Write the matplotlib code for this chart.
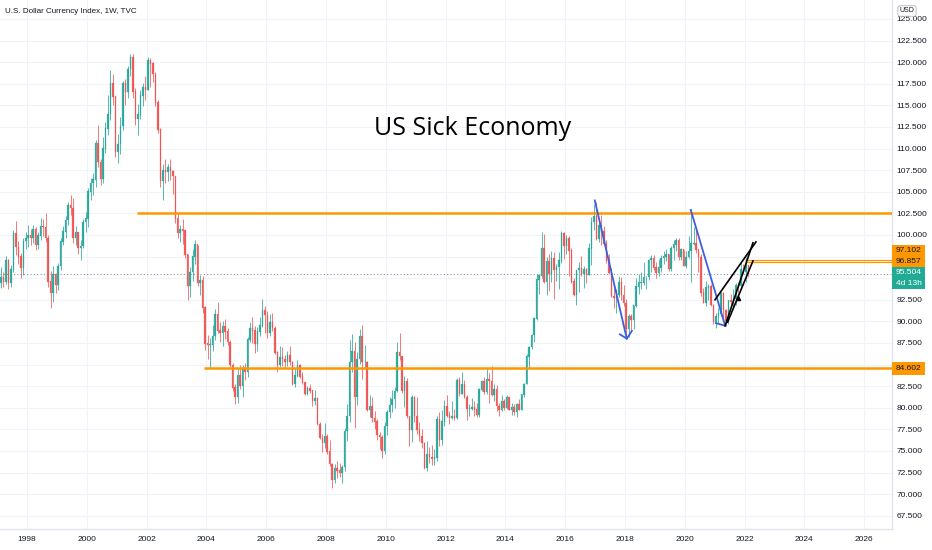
import numpy as np
import matplotlib
matplotlib.use("Agg")
import matplotlib.pyplot as plt
from matplotlib.patches import Rectangle

W, H = 932, 550

# monthly candles Feb 1997 .. Feb 2022
first_open = 94.5
closes = [
    95.1, 94.6, 97.0, 94.5, 96.0, 100.2, 98.6, 97.5, 96.2, 99.3, 99.6,
    100.0, 99.7, 100.6, 98.9, 99.9, 101.0, 100.9, 99.6, 94.6, 93.3, 95.4, 94.2,
    96.4, 99.2, 100.4, 101.7, 103.4, 103.1, 99.6, 100.3, 98.5, 98.7, 101.5, 101.9,
    105.0, 106.0, 106.4, 110.6, 108.4, 106.5, 110.0, 112.3, 114.0, 117.5, 116.0, 109.6,
    110.5, 112.6, 117.5, 116.6, 119.2, 120.6, 116.6, 113.4, 113.9, 116.1, 117.1, 116.8,
    120.2, 119.8, 118.6, 115.3, 112.2, 106.3, 107.5, 107.3, 107.8, 107.4, 106.8, 101.9,
    100.2, 100.6, 100.5, 97.7, 94.1, 95.7, 97.5, 98.9, 94.5, 94.7, 91.6, 87.4,
    87.3, 87.3, 88.3, 90.8, 88.9, 88.7, 89.4, 88.8, 87.6, 84.9, 82.3, 81.2,
    83.7, 82.5, 84.4, 84.1, 87.9, 89.2, 88.9, 87.4, 88.8, 89.5, 91.3, 90.7,
    88.7, 89.9, 89.2, 86.4, 84.9, 85.8, 85.6, 85.3, 86.1, 85.3, 82.7, 83.7,
    84.9, 83.6, 82.9, 81.6, 82.2, 82.0, 80.8, 81.1, 78.1, 76.5, 75.9, 76.7,
    74.9, 73.5, 71.7, 73.0, 72.7, 72.4, 73.1, 77.3, 79.0, 85.3, 86.5, 81.3,
    85.6, 88.3, 85.3, 85.3, 79.8, 80.2, 78.8, 78.4, 76.8, 76.6, 75.0, 77.9,
    79.5, 80.3, 81.0, 81.9, 86.4, 86.0, 81.9, 83.1, 79.0, 77.4, 81.2, 79.0,
    77.4, 76.7, 75.9, 73.0, 74.6, 74.3, 74.1, 74.2, 78.6, 76.3, 78.4, 80.2,
    79.1, 78.8, 79.0, 78.8, 83.2, 81.6, 82.7, 81.2, 79.9, 79.9, 80.1, 79.8,
    79.2, 82.1, 83.0, 81.8, 83.3, 83.1, 81.5, 82.1, 80.2, 79.7, 80.7, 80.0,
    81.2, 79.8, 80.1, 79.5, 80.4, 79.8, 81.5, 82.7, 85.9, 87.0, 88.4, 90.3,
    94.8, 95.3, 98.4, 94.6, 96.9, 95.5, 97.3, 96.0, 96.3, 97.0, 100.2, 98.7,
    99.6, 98.2, 94.6, 93.1, 95.9, 96.1, 95.5, 96.0, 95.4, 98.4, 101.5, 102.2,
    99.5, 101.1, 100.4, 99.0, 97.0, 95.6, 92.9, 92.7, 93.1, 94.5, 93.0, 92.1,
    89.1, 90.6, 90.2, 91.8, 94.0, 94.5, 94.5, 95.1, 95.1, 97.1, 97.3, 96.2,
    95.6, 96.2, 97.3, 97.5, 97.8, 96.1, 98.5, 98.9, 99.4, 97.4, 98.3, 96.4,
    97.4, 98.1, 99.0, 99.0, 98.3, 97.4, 93.3, 92.1, 93.9, 94.0, 91.9, 89.9,
    90.6, 90.9, 93.2, 91.3, 90.0, 92.4, 92.2, 92.6, 94.2, 94.1, 96.0, 95.7,
    96.5, 95.5,
]
highs = [
    96.3, 95.7, 97.6, 97.2, 96.5, 100.6, 101.6, 99.3, 97.9, 99.6, 100.4,
    101.2, 100.7, 101.2, 100.9, 100.3, 102.0, 101.8, 102.6, 100.0, 95.8, 96.4, 95.6,
    96.8, 99.6, 101.0, 102.2, 103.8, 104.6, 104.3, 101.0, 100.4, 99.4, 101.9, 102.7,
    105.4, 106.6, 107.2, 111.0, 112.7, 108.8, 111.3, 113.1, 116.2, 119.1, 118.6, 116.0,
    111.7, 113.6, 117.8, 118.0, 119.6, 121.0, 121.0, 117.0, 115.2, 116.8, 117.6, 118.4,
    120.6, 120.5, 120.0, 118.9, 115.6, 112.4, 108.2, 108.8, 108.2, 108.8, 107.5, 106.8,
    102.6, 101.2, 101.9, 100.6, 97.8, 96.3, 98.4, 99.4, 98.9, 95.4, 95.2, 91.8,
    88.4, 88.1, 89.6, 91.4, 92.2, 89.9, 90.0, 90.3, 89.2, 87.8, 85.2, 82.8,
    84.6, 85.0, 84.9, 85.2, 88.2, 89.9, 90.5, 89.5, 89.3, 90.5, 92.6, 91.8,
    91.2, 90.8, 91.0, 89.5, 86.6, 87.2, 87.0, 86.1, 86.6, 87.2, 85.4, 84.6,
    85.5, 85.1, 84.2, 83.0, 82.5, 82.7, 82.0, 82.1, 81.2, 78.3, 77.0, 78.2,
    77.0, 76.3, 73.6, 73.5, 73.8, 73.6, 73.4, 77.7, 80.4, 87.9, 88.5, 87.6,
    86.5, 89.1, 89.6, 87.3, 85.4, 81.5, 81.3, 79.6, 78.7, 77.2, 76.8, 78.4,
    79.8, 81.3, 82.1, 82.4, 87.6, 88.7, 86.0, 83.7, 83.5, 78.9, 81.5, 81.4,
    81.2, 78.4, 77.6, 76.0, 76.2, 75.5, 75.7, 75.2, 79.0, 79.5, 79.8, 80.9,
    81.5, 79.6, 80.8, 79.9, 83.5, 83.6, 84.1, 83.2, 81.5, 80.4, 81.1, 80.8,
    80.6, 82.3, 83.2, 83.6, 84.5, 84.0, 84.8, 82.7, 82.6, 80.6, 81.5, 81.0,
    81.5, 81.3, 80.5, 80.4, 80.6, 81.0, 81.6, 82.9, 86.2, 87.1, 88.5, 90.5,
    95.5, 95.5, 100.4, 100.1, 97.5, 97.8, 98.2, 98.0, 96.7, 98.0, 100.5, 100.3,
    100.0, 99.9, 98.5, 95.0, 96.0, 96.9, 97.6, 96.4, 96.2, 99.1, 102.1, 103.6,
    103.8, 101.8, 102.3, 101.0, 99.4, 97.8, 96.2, 93.9, 93.8, 95.2, 95.1, 94.2,
    92.6, 90.9, 90.9, 91.9, 95.0, 95.5, 95.7, 96.9, 95.3, 97.2, 97.7, 97.7,
    96.9, 97.2, 97.7, 98.1, 98.4, 97.8, 98.7, 99.4, 99.7, 99.6, 98.5, 98.3,
    98.2, 99.9, 103.0, 100.9, 100.6, 98.3, 97.8, 93.9, 94.7, 94.3, 94.3, 92.0,
    91.0, 91.6, 93.4, 93.4, 91.4, 92.4, 93.2, 93.7, 94.5, 94.6, 96.9, 96.6,
    97.4, 96.4,
]
lows = [
    93.9, 94.0, 94.3, 93.7, 94.0, 95.7, 97.7, 96.6, 95.0, 95.4, 98.4,
    98.6, 98.8, 99.1, 98.3, 98.4, 99.4, 99.9, 99.2, 94.0, 91.5, 92.3, 93.3,
    93.6, 96.0, 98.8, 99.7, 101.2, 102.3, 99.1, 98.8, 97.8, 97.1, 98.5, 100.4,
    100.9, 104.0, 104.6, 105.6, 107.9, 105.8, 106.0, 109.5, 111.6, 113.3, 115.0, 109.0,
    108.3, 109.4, 112.2, 115.1, 115.8, 118.4, 115.9, 112.7, 111.6, 113.4, 114.9, 115.6,
    116.8, 117.1, 117.7, 114.9, 111.8, 105.6, 104.1, 106.0, 106.2, 106.4, 104.8, 101.4,
    99.6, 99.2, 99.0, 97.3, 92.5, 92.8, 94.7, 96.7, 94.1, 93.1, 91.0, 86.7,
    85.6, 84.6, 86.6, 87.9, 88.6, 87.6, 87.2, 88.0, 87.3, 84.7, 82.0, 80.4,
    80.6, 82.2, 81.3, 83.2, 83.6, 87.6, 87.5, 86.3, 86.6, 88.3, 89.4, 88.7,
    88.1, 88.3, 88.9, 86.2, 84.2, 84.7, 84.8, 84.6, 84.8, 85.0, 82.6, 82.4,
    83.6, 83.4, 82.7, 81.5, 81.5, 81.7, 80.2, 80.3, 78.0, 76.4, 74.9, 75.4,
    74.6, 73.3, 70.7, 71.3, 71.9, 72.0, 71.3, 72.7, 76.2, 78.3, 84.1, 77.7,
    80.3, 85.1, 83.3, 84.5, 79.6, 78.9, 78.3, 77.5, 76.3, 75.2, 74.2, 74.7,
    76.9, 78.8, 79.5, 80.0, 81.8, 85.5, 81.7, 80.1, 78.8, 75.6, 76.0, 78.4,
    77.0, 76.2, 75.3, 72.9, 72.7, 73.6, 73.4, 73.4, 73.8, 75.6, 75.7, 77.9,
    78.9, 78.1, 78.7, 78.6, 78.7, 81.4, 81.6, 81.1, 78.6, 79.0, 79.7, 79.0,
    78.9, 78.9, 81.9, 81.6, 81.6, 80.5, 81.4, 80.8, 79.6, 79.1, 79.6, 79.7,
    79.9, 79.8, 79.2, 79.2, 78.9, 79.7, 79.8, 81.3, 82.7, 84.5, 86.8, 87.6,
    90.2, 93.2, 95.0, 94.5, 93.1, 93.5, 94.6, 92.6, 94.7, 93.8, 96.8, 97.2,
    97.8, 95.2, 94.5, 92.9, 91.9, 93.4, 95.2, 93.9, 94.5, 95.4, 96.5, 100.6,
    99.4, 99.2, 98.9, 98.9, 96.8, 95.5, 92.8, 91.6, 91.0, 92.8, 92.5, 91.8,
    88.4, 88.2, 89.0, 89.1, 91.7, 93.2, 93.7, 94.2, 93.8, 94.8, 95.7, 96.0,
    95.0, 95.2, 95.7, 96.6, 97.0, 95.8, 95.8, 97.1, 98.1, 97.1, 97.1, 96.4,
    96.2, 97.3, 94.6, 98.8, 97.9, 95.7, 92.9, 92.1, 91.8, 92.5, 91.8, 89.7,
    89.2, 89.7, 90.6, 90.4, 89.5, 89.7, 91.8, 91.8, 91.9, 93.3, 93.9, 95.5,
    94.6, 95.1,
]

year_ticks = list(range(1998, 2027, 2))
price_ticks = [67.5, 70, 72.5, 75, 77.5, 80, 82.5, 85, 87.5, 90, 92.5, 95, 97.5,
               100, 102.5, 105, 107.5, 110, 112.5, 115, 117.5, 120, 122.5, 125]
# these axis labels sit under the price tags in the reference
hidden_ticks = [85, 95, 97.5]

last_price = 95.504
# horizontal rays: (price, start year, width)
levels = [(102.55, 2001.68, 1.8), (84.602, 2003.92, 1.8),
          (97.102, 2022.01, 0.9), (96.857, 2022.01, 0.9)]

# drawings (year, price)
blue_1 = [(2016.99, 104.0), (2018.06, 88.0), (2018.23, 88.9)]
blue_1b = [(2017.83, 88.5), (2018.06, 88.0)]
blue_2 = [(2020.20, 102.9), (2021.35, 89.5)]
blue_2b = [(2021.04, 89.8), (2021.35, 89.5)]
black_a = [(2021.01, 92.5), (2022.38, 99.2)]
black_b = [(2021.35, 89.5), (2022.28, 99.1)]
black_c = [(2021.43, 89.9), (2022.28, 97.0)]

UP, DOWN = "#26a69a", "#ef5350"
ORANGE = "#ff9800"
TXT = "#131722"

opens = [first_open] + closes[:-1]
t = 1997 + (np.arange(len(closes)) + 1.5) / 12
o = np.array(opens)
c = np.array(closes)
colors = np.where(c >= o, UP, DOWN)

fig = plt.figure(figsize=(W / 100, H / 100), dpi=100)
fig.patch.set_facecolor("white")
ax = fig.add_axes([0, 21 / H, 892 / W, 529 / H])

ax.vlines(t, lows, highs, colors=colors, lw=0.6, alpha=0.9, zorder=3)
ax.bar(t, np.abs(c - o) + 0.05, bottom=np.minimum(o, c), width=0.05,
       color=colors, edgecolor=colors, lw=0.2, alpha=0.9, zorder=3)

for price, start, lw in levels:
    ax.plot([start, 2030], [price, price], color=ORANGE, lw=lw, zorder=4,
            solid_capstyle="butt")
ax.axhline(last_price, color="#9598a1", lw=0.8, ls=(0, (1, 2)), zorder=2)

for pts in (blue_1, blue_1b, blue_2, blue_2b):
    xs, ys = zip(*pts)
    ax.plot(xs, ys, color="#3d5ee0", lw=1.3, zorder=5)
for pts in (black_a, black_b, black_c):
    xs, ys = zip(*pts)
    ax.plot(xs, ys, color="black", lw=1.2, zorder=5)
ax.plot([2021.78], [92.7], marker="^", color="black", ms=3, zorder=6)

ax.set_xlim(1997.097, 2026.93)
ax.set_ylim(65.972, 127.199)

ax.set_xticks(year_ticks)
ax.set_xticklabels([str(y) for y in year_ticks])
ax.set_yticks(price_ticks)
ax.set_yticklabels(["" if p in hidden_ticks else f"{p:.3f}" for p in price_ticks])
ax.yaxis.tick_right()
ax.tick_params(axis="y", length=0, pad=3, labelsize=6, labelcolor=TXT)
ax.tick_params(axis="x", length=0, pad=5, labelsize=6, labelcolor=TXT)
for lab in ax.get_xticklabels() + ax.get_yticklabels():
    lab.set_family("Liberation Sans")
ax.grid(True, color="#f0f3fa", lw=0.8, zorder=0)
ax.set_axisbelow(True)
for s in ("left", "top"):
    ax.spines[s].set_visible(False)
for s in ("right", "bottom"):
    ax.spines[s].set_color("#e0e3eb")
    ax.spines[s].set_linewidth(1)

fig.text(5 / W, 1 - 11.5 / H, "U.S. Dollar Currency Index, 1W, TVC",
         fontsize=5.8, color=TXT, va="center", ha="left", family="Liberation Sans")
fig.text(473 / W, 1 - 135 / H, "US Sick Economy", fontsize=18, color="black",
         ha="center", va="baseline", family="Open Sans", fontweight="medium")


def box(y0, y1, color, lines, tcolor):
    fig.patches.append(Rectangle((892 / W, 1 - y1 / H), 33 / W, (y1 - y0) / H,
                                 transform=fig.transFigure, facecolor=color,
                                 edgecolor="none", zorder=5))
    step = (y1 - y0) / len(lines)
    for i, s in enumerate(lines):
        fig.text(908.5 / W, 1 - (y0 + step * (i + 0.5)) / H, s, fontsize=6,
                 color=tcolor, ha="center", va="center", family="Liberation Sans",
                 zorder=6)


box(245, 267, ORANGE, ["97.102", "96.857"], TXT)
box(267, 289, "#22ab94", [f"{last_price:.3f}", "4d 13h"], "white")
box(362, 375, ORANGE, ["84.602"], TXT)

fig.text(907 / W, 1 - 11 / H, "USD", fontsize=5, color=TXT, ha="center", va="center",
         family="Liberation Sans", zorder=6,
         bbox=dict(boxstyle="round,pad=0.25,rounding_size=0.3", fc="white",
                   ec="#b2b5be", lw=0.6))

fig.savefig("out.png", dpi=100)
